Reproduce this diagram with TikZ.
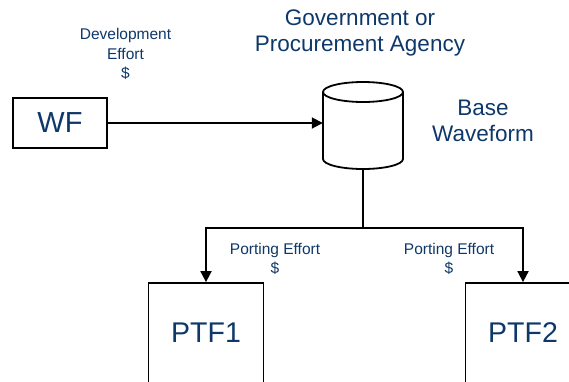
\documentclass[tikz,border=0pt]{standalone}
\usepackage{fontspec}
\setmainfont{Liberation Sans}
\usetikzlibrary{arrows.meta}
\definecolor{navy}{RGB}{14,56,105}
\tikzset{
  box/.style={draw=black, line width=1.8pt, inner sep=0pt, fill=white},
  lbl/.style={text=navy, align=center, inner sep=0pt},
  conn/.style={line width=1.8pt, draw=black},
  arr/.style={conn, -{Triangle[length=11pt,width=11pt]}},
  small/.style={font=\fontsize{15.5}{19.5}\selectfont},
  big/.style={font=\fontsize{22.5}{26}\selectfont},
}
\begin{document}
\begin{tikzpicture}[x=1pt,y=-1pt]
\useasboundingbox (0,0) rectangle (569,381);
\clip (0,0) rectangle (569,381);
% WF box
\node[box, minimum width=94pt, minimum height=50pt, text=navy, font=\fontsize{29}{32}\selectfont] (wf) at (60,123) {WF};
% database (cylinder drawn manually around a named node)
\node[minimum width=80pt, minimum height=87pt, inner sep=0pt] (db) at (363,125.5) {};
\draw[conn] (323,92) -- (323,159) arc[start angle=180, end angle=0, x radius=40, y radius=10] -- (403,92);
\draw[conn] (363,92) ellipse [x radius=40, y radius=10];
% PTF boxes
\node[box, minimum width=115pt, minimum height=100pt, text=navy, font=\fontsize{28.5}{32}\selectfont] (ptf1) at (206,333) {PTF1};
\node[box, minimum width=115pt, minimum height=100pt, text=navy, font=\fontsize{28.5}{32}\selectfont] (ptf2) at (523,333) {PTF2};
% labels
\node[lbl, small] (dev) at (125.5,54) {Development\\Effort\\\$};
\node[lbl, big] (gov) at (360,33) {Government or\\Procurement Agency};
\node[lbl, big] (base) at (483,121) {Base\\Waveform};
\node[lbl, small] (pe1) at (275,259) {Porting Effort\\\$};
\node[lbl, small] (pe2) at (449,259) {Porting Effort\\\$};
% connectors
\draw[arr] (wf.east) -- (wf.east -| db.west);
\coordinate (split) at (363,228);
\draw[conn] (db.south) -- (split);
\draw[arr] (split) -| (ptf1.north);
\draw[arr] (split) -| (ptf2.north);
\end{tikzpicture}
\end{document}
